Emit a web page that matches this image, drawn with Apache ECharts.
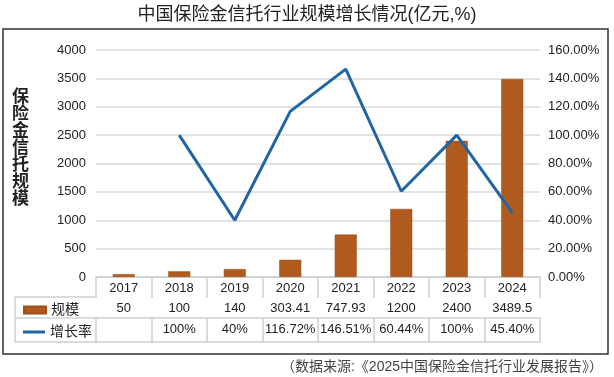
<!DOCTYPE html>
<html>
<head>
<meta charset="utf-8">
<script src="https://cdn.jsdelivr.net/npm/echarts@6/dist/echarts.min.js"></script>
<style>
  html, body { margin: 0; padding: 0; background: #fff; }
  #chart { width: 614px; height: 377px; }
</style>
</head>
<body>
<div id="chart"></div>
<script>
var years = ['2017', '2018', '2019', '2020', '2021', '2022', '2023', '2024'];
var scale = [50, 100, 140, 303.41, 747.93, 1200, 2400, 3489.5];
var growth = [null, 100, 40, 116.72, 146.51, 60.44, 100, 45.40];
var scaleText = ['50', '100', '140', '303.41', '747.93', '1200', '2400', '3489.5'];
var growthText = ['', '100%', '40%', '116.72%', '146.51%', '60.44%', '100%', '45.40%'];

var font = '"Liberation Sans", "Noto Sans CJK SC", sans-serif';
var tableColor = '#c9d0d6';

// one x axis per table row, stacked under the plot
function tableAxis(data, offset, tickLen, showLabel) {
    return {
        type: 'category',
        data: data,
        position: 'bottom',
        offset: offset,
        axisLine: { show: true, lineStyle: { color: tableColor, width: 1.5 } },
        axisTick: { show: tickLen > 0, length: tickLen, lineStyle: { color: tableColor, width: 1.5 } },
        axisLabel: { show: showLabel, interval: 0, margin: 5, fontSize: 13, color: '#222', fontFamily: font },
        splitLine: { show: false }
    };
}

var chartDom = document.getElementById('chart');
var myChart = echarts.init(chartDom);

var option = {
    animation: false,
    textStyle: { fontFamily: font },
    title: [
        {
            text: '中国保险金信托行业规模增长情况(亿元,%)',
            left: 'center',
            top: 1,
            textStyle: { fontSize: 18, fontWeight: 'normal', color: '#222', fontFamily: font }
        },
        {
            text: '（数据来源:《2025中国保险金信托行业发展报告》）',
            right: 6,
            top: 355,
            textStyle: { fontSize: 14, fontWeight: 'normal', color: '#444', fontFamily: font }
        }
    ],
    legend: [
        {
            data: [{ name: '规模', icon: 'rect' }],
            left: 18,
            top: 298,
            itemWidth: 22,
            itemHeight: 7,
            textStyle: { fontSize: 14, color: '#222' }
        },
        {
            data: [{ name: '增长率', icon: 'rect' }],
            left: 18,
            top: 320,
            itemWidth: 22,
            itemHeight: 3,
            textStyle: { fontSize: 14, color: '#222' }
        }
    ],
    grid: { left: 96, right: 74, top: 50, bottom: 100, containLabel: false },
    xAxis: [
        tableAxis(years, 0, 20, true),
        tableAxis(scaleText, 20, 21, true),
        tableAxis(growthText, 41, 24, true),
        tableAxis(years, 65, 0, false)
    ],
    yAxis: [
        {
            type: 'value',
            min: 0,
            max: 4000,
            interval: 500,
            axisLine: { show: false },
            axisTick: { show: false },
            axisLabel: { margin: 10, fontSize: 13, color: '#222', formatter: function (v) { return String(v); } },
            splitLine: { lineStyle: { color: '#d5dadd', width: 1.5 } }
        },
        {
            type: 'value',
            min: 0,
            max: 160,
            interval: 20,
            axisLine: { show: false },
            axisTick: { show: false },
            axisLabel: {
                margin: 8,
                fontSize: 13,
                color: '#222',
                formatter: function (v) { return v.toFixed(2) + '%'; }
            },
            splitLine: { show: false }
        }
    ],
    series: [
        {
            name: '规模',
            type: 'bar',
            xAxisIndex: 0,
            yAxisIndex: 0,
            barWidth: 22,
            itemStyle: { color: '#b05a1d', borderColor: '#9c4e18', borderWidth: 0.5 },
            data: scale
        },
        {
            name: '增长率',
            type: 'line',
            xAxisIndex: 0,
            yAxisIndex: 1,
            symbol: 'none',
            lineStyle: { color: '#2265a5', width: 3 },
            itemStyle: { color: '#2265a5' },
            data: growth
        }
    ],
    graphic: [
        {
            type: 'rect',
            shape: { x: 3, y: 29, width: 605, height: 325 },
            style: { fill: 'none', stroke: '#333', lineWidth: 1.5 },
            silent: true
        },
        {
            type: 'text',
            left: 12,
            top: 87,
            style: {
                text: '保\n险\n金\n信\n托\n规\n模',
                font: 'bold 17px "Noto Sans CJK SC", sans-serif',
                lineHeight: 17,
                fill: '#222'
            },
            silent: true
        },
        { type: 'line', shape: { x1: 15, y1: 297, x2: 96, y2: 297 }, style: { stroke: tableColor, lineWidth: 1.5 }, silent: true },
        { type: 'line', shape: { x1: 15, y1: 318, x2: 96, y2: 318 }, style: { stroke: tableColor, lineWidth: 1.5 }, silent: true },
        { type: 'line', shape: { x1: 15, y1: 342, x2: 96, y2: 342 }, style: { stroke: tableColor, lineWidth: 1.5 }, silent: true },
        { type: 'line', shape: { x1: 15, y1: 297, x2: 15, y2: 342 }, style: { stroke: tableColor, lineWidth: 1.5 }, silent: true }
    ]
};

myChart.setOption(option);
</script>
</body>
</html>
